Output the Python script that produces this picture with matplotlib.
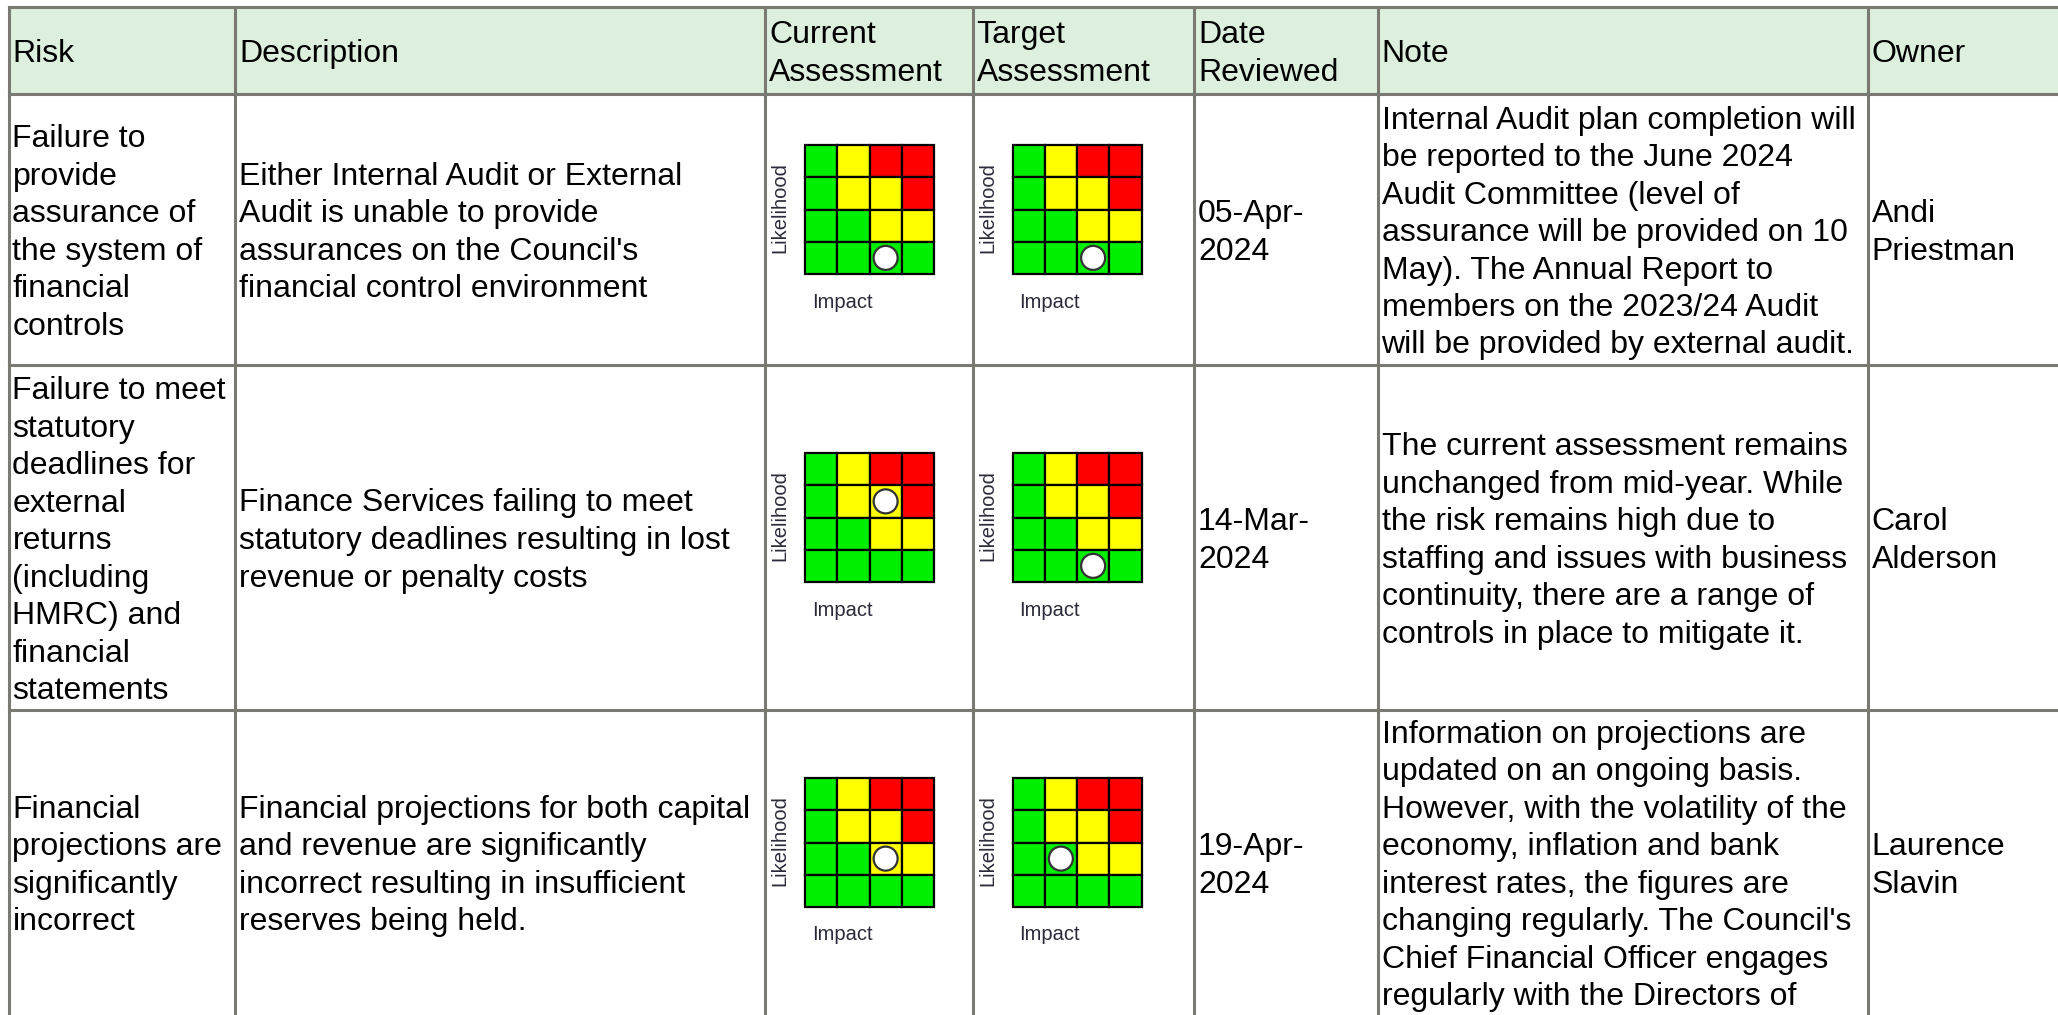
import matplotlib.pyplot as plt
from matplotlib.patches import Rectangle, Circle

plt.rcParams['font.family'] = ['Liberation Sans', 'DejaVu Sans']

W, H = 2058, 1015

headers = [['Risk'], ['Description'], ['Current', 'Assessment'], ['Target', 'Assessment'],
           ['Date', 'Reviewed'], ['Note'], ['Owner']]

risks = [
    ['Failure to', 'provide', 'assurance of', 'the system of', 'financial', 'controls'],
    ['Failure to meet', 'statutory', 'deadlines for', 'external', 'returns', '(including',
     'HMRC) and', 'financial', 'statements'],
    ['Financial', 'projections are', 'significantly', 'incorrect'],
]
descriptions = [
    ['Either Internal Audit or External', 'Audit is unable to provide',
     "assurances on the Council's", 'financial control environment'],
    ['Finance Services failing to meet', 'statutory deadlines resulting in lost',
     'revenue or penalty costs'],
    ['Financial projections for both capital', 'and revenue are significantly',
     'incorrect resulting in insufficient', 'reserves being held.'],
]
# (impact, likelihood) on a 1..4 scale
current_pos = [(3, 1), (3, 3), (3, 2)]
target_pos = [(3, 1), (3, 1), (2, 2)]
dates = [['05-Apr-', '2024'], ['14-Mar-', '2024'], ['19-Apr-', '2024']]
notes = [
    ['Internal Audit plan completion will', 'be reported to the June 2024',
     'Audit Committee (level of', 'assurance will be provided on 10',
     'May). The Annual Report to', 'members on the 2023/24 Audit',
     'will be provided by external audit.'],
    ['The current assessment remains', 'unchanged from mid-year. While',
     'the risk remains high due to', 'staffing and issues with business',
     'continuity, there are a range of', 'controls in place to mitigate it.'],
    ['Information on projections are', 'updated on an ongoing basis.',
     'However, with the volatility of the', 'economy, inflation and bank',
     'interest rates, the figures are', "changing regularly. The Council's",
     'Chief Financial Officer engages', 'regularly with the Directors of'],
]
owners = [['Andi', 'Priestman'], ['Carol', 'Alderson'], ['Laurence', 'Slavin']]

# risk level of each matrix cell, top row = highest likelihood
levels = [[0, 1, 2, 2],
          [0, 1, 1, 2],
          [0, 0, 1, 1],
          [0, 0, 0, 0]]
level_colors = ['#00f000', '#ffff00', '#ff0000']

col_x = [8.5, 235, 765, 972.5, 1194, 1377.5, 1867.5, 2060]
row_y = [7, 94, 365, 710, 1015]

border = '#7a7a72'
head_bg = '#ddefdd'
fs = 23
lh = 37.5

fig = plt.figure(figsize=(W / 100, H / 100), dpi=100)
ax = fig.add_axes([0, 0, 1, 1])
ax.set_xlim(0, W)
ax.set_ylim(H, 0)
ax.axis('off')


def cell_text(lines, col, r0, r1):
    cy = (r0 + r1) / 2
    n = len(lines)
    for i, t in enumerate(lines):
        y = cy + (i - (n - 1) / 2) * lh + 0.36 * fs / 0.72
        ax.text(col_x[col] + 4, y, t, fontsize=fs, va='baseline', ha='left', color='black')


def matrix(col, r0, r1, pos):
    left = col_x[col] + 40
    top = (r0 + r1) / 2 - 84.5
    cs = 32.25
    for i in range(4):
        for j in range(4):
            ax.add_patch(Rectangle((left + j * cs, top + i * cs), cs, cs,
                                   facecolor=level_colors[levels[i][j]],
                                   edgecolor='black', lw=1.6, zorder=2))
    imp, lik = pos
    ax.add_patch(Circle((left + (imp - 0.5) * cs, top + (4 - lik + 0.5) * cs), 12,
                        facecolor='white', edgecolor='#333333', lw=1.6, zorder=3))
    ax.text(left - 25, top + 2 * cs - 2, 'Likelihood', rotation=90, fontsize=14.5,
            ha='center', va='center', color='#2b2b3b')
    ax.text(left + 37, top + 4 * cs + 28, 'Impact', fontsize=14.5,
            ha='center', va='center', color='#2b2b3b')


# header
ax.add_patch(Rectangle((col_x[0], row_y[0]), W - col_x[0], row_y[1] - row_y[0],
                       facecolor=head_bg, edgecolor='none', zorder=0))
for c, h in enumerate(headers):
    cell_text(h, c, row_y[0], row_y[1])

for r in range(3):
    r0, r1 = row_y[r + 1], row_y[r + 2]
    cell_text(risks[r], 0, r0, r1)
    cell_text(descriptions[r], 1, r0, r1)
    matrix(2, r0, r1, current_pos[r])
    matrix(3, r0, r1, target_pos[r])
    cell_text(dates[r], 4, r0, r1)
    cell_text(notes[r], 5, r0, r1)
    cell_text(owners[r], 6, r0, r1)

# grid lines (table runs past the bottom and right edges)
for x in col_x[:-1]:
    ax.plot([x, x], [row_y[0], H + 5], color=border, lw=2.2, zorder=4,
            solid_capstyle='projecting')
for y in row_y[:-1]:
    ax.plot([col_x[0], W + 5], [y, y], color=border, lw=2.2, zorder=4,
            solid_capstyle='projecting')

fig.savefig('out.png', dpi=100)
